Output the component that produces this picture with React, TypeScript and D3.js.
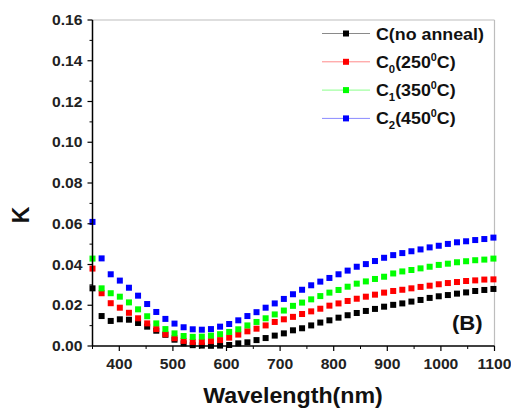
import React from "react";
import * as d3 from "d3";

const wavelengths = [350, 367, 384, 401, 418, 435, 452, 469, 486, 503, 520, 537, 554, 571, 588, 605, 622, 639, 656, 673, 690, 707, 724, 741, 758, 775, 792, 809, 826, 843, 860, 877, 894, 911, 928, 945, 962, 979, 996, 1013, 1030, 1047, 1064, 1081, 1098];

const kNoAnneal = [0.0283, 0.0147, 0.0123, 0.0131, 0.0129, 0.0113, 0.0095, 0.0075, 0.0055, 0.0031, 0.0013, 0.0004, 0.0002, 0.0001, 0.0002, 0.0005, 0.0013, 0.0018, 0.0029, 0.0039, 0.0051, 0.0062, 0.0077, 0.0087, 0.0101, 0.0115, 0.0126, 0.0139, 0.0151, 0.0162, 0.0172, 0.0182, 0.0193, 0.0202, 0.0209, 0.0218, 0.0226, 0.0236, 0.0244, 0.025, 0.0257, 0.0263, 0.027, 0.0275, 0.028];
const k250 = [0.038, 0.0259, 0.021, 0.0188, 0.0163, 0.0136, 0.0111, 0.0083, 0.0057, 0.0038, 0.0025, 0.002, 0.002, 0.0024, 0.0029, 0.0041, 0.0056, 0.0072, 0.0085, 0.0101, 0.0118, 0.0131, 0.0143, 0.0157, 0.017, 0.0183, 0.0198, 0.0209, 0.0221, 0.0232, 0.0242, 0.0252, 0.0262, 0.027, 0.0276, 0.0283, 0.029, 0.0296, 0.0303, 0.0309, 0.0314, 0.0319, 0.0322, 0.0326, 0.0327];
const k350 = [0.0429, 0.0283, 0.0259, 0.0242, 0.0214, 0.018, 0.0146, 0.0111, 0.0083, 0.0062, 0.0049, 0.0045, 0.0046, 0.0051, 0.0058, 0.0069, 0.0082, 0.0101, 0.0118, 0.0136, 0.0155, 0.0174, 0.0197, 0.0213, 0.0229, 0.0245, 0.0262, 0.0275, 0.0291, 0.0306, 0.0317, 0.0329, 0.034, 0.0356, 0.0366, 0.0373, 0.0381, 0.0389, 0.0398, 0.0404, 0.0411, 0.0416, 0.0421, 0.0424, 0.0429];
const k450 = [0.0609, 0.043, 0.0352, 0.0321, 0.0286, 0.0247, 0.0206, 0.0167, 0.0133, 0.011, 0.0092, 0.0082, 0.008, 0.0083, 0.0095, 0.0108, 0.0126, 0.0147, 0.0166, 0.0188, 0.0209, 0.0231, 0.0254, 0.0276, 0.0298, 0.0316, 0.0334, 0.0352, 0.037, 0.0389, 0.0402, 0.0417, 0.0433, 0.0446, 0.0456, 0.0465, 0.0474, 0.0484, 0.0492, 0.0501, 0.0509, 0.0514, 0.052, 0.0525, 0.0532];

const seriesNames = ["C(no anneal)", "C0(250C)", "C1(350C)", "C2(450C)"];
const seriesColors = ["#000000", "#ff0000", "#00ff00", "#0000ff"];
const legendLineColors = ["#8a8a8a", "#ff8a8a", "#8aff8a", "#8a8aff"];
const xTicks = [400, 500, 600, 700, 800, 900, 1000, 1100];
const xMinorTicks = [350, 450, 550, 650, 750, 850, 950, 1050];
const yTicks = [0.0, 0.02, 0.04, 0.06, 0.08, 0.1, 0.12, 0.14, 0.16];
const yMinorTicks = [0.01, 0.03, 0.05, 0.07, 0.09, 0.11, 0.13, 0.15];

const W = 511, H = 409;
const left = 92.5, right = 494.5, top = 20, bottom = 346;
const FONT = "'Liberation Sans', Arial, sans-serif";
const SX = 1.08;

export default function App() {
  const x = d3.scaleLinear().domain([350, 1100]).range([left, right]);
  const y = d3.scaleLinear().domain([0, 0.16]).range([bottom, top]);
  const allSeries = [kNoAnneal, k250, k350, k450];
  const ms = 6;

  const legendRows = [
    { main: "C", sub: null, rest: "(no anneal)", t: null },
    { main: "C", sub: "0", rest: "(250", t: "C)" },
    { main: "C", sub: "1", rest: "(350", t: "C)" },
    { main: "C", sub: "2", rest: "(450", t: "C)" },
  ];

  return (
    <svg width={W} height={H} style={{ position: "absolute", left: 0, top: 0, background: "#fff" }} fontFamily={FONT}>
      <rect x={0} y={0} width={W} height={H} fill="#fff" />
      <line x1={left} x2={right} y1={top} y2={top} stroke="#bdbdbd" strokeWidth={1.2} />
      <line x1={right} x2={right} y1={top} y2={bottom} stroke="#bdbdbd" strokeWidth={1.2} />

      {allSeries.map((s, si) => (
        <g key={si} fill={seriesColors[si]}>
          {s.map((v, i) => (
            <rect key={i} x={x(wavelengths[i]) - ms / 2} y={y(v) - ms / 2} width={ms} height={ms} />
          ))}
        </g>
      ))}

      <line x1={left} x2={left} y1={top} y2={bottom} stroke="#000" strokeWidth={1.5} />
      <line x1={left} x2={right} y1={bottom} y2={bottom} stroke="#000" strokeWidth={1.5} />
      {yTicks.map((t) => (
        <g key={"y" + t}>
          <line x1={left - 5} x2={left} y1={y(t)} y2={y(t)} stroke="#000" strokeWidth={1.2} />
          <text transform={`translate(${left - 10},${y(t) + 5}) scale(${SX},1)`} textAnchor="end" fontSize={14.5} fontWeight="bold" fill="#222">
            {t.toFixed(2)}
          </text>
        </g>
      ))}
      {yMinorTicks.map((t) => (
        <line key={"ym" + t} x1={left - 3} x2={left} y1={y(t)} y2={y(t)} stroke="#000" strokeWidth={1} />
      ))}
      {xTicks.map((t) => (
        <g key={"x" + t}>
          <line x1={x(t)} x2={x(t)} y1={bottom} y2={bottom + 5} stroke="#000" strokeWidth={1.2} />
          <text transform={`translate(${x(t)},${bottom + 23}) scale(${SX},1)`} textAnchor="middle" fontSize={14.5} fontWeight="bold" fill="#222">
            {t}
          </text>
        </g>
      ))}
      {xMinorTicks.map((t) => (
        <line key={"xm" + t} x1={x(t)} x2={x(t)} y1={bottom} y2={bottom + 3} stroke="#000" strokeWidth={1} />
      ))}

      <text transform={`translate(293,403) scale(${SX},1)`} textAnchor="middle" fontSize={21.5} fontWeight="bold" fill="#111">
        Wavelength(nm)
      </text>
      <text transform={`translate(29,215) rotate(-90)`} textAnchor="middle" fontSize={23} fontWeight="bold" fill="#111">
        K
      </text>

      {legendRows.map((r, i) => {
        const cy = 33.5 + i * 28.3;
        const base = cy + 6;
        return (
          <g key={"lg" + i}>
            <line x1={322} x2={370} y1={cy} y2={cy} stroke={legendLineColors[i]} strokeWidth={1} />
            <rect x={346 - ms / 2} y={cy - ms / 2} width={ms} height={ms} fill={seriesColors[i]} />
            <text transform={`translate(376,${base}) scale(${SX},1)`} fontSize={16.5} fontWeight="bold" fill="#111">
              <tspan>{r.main}</tspan>
              {r.sub && (
                <tspan fontSize={10.5} dy={5}>{r.sub}</tspan>
              )}
              <tspan dy={r.sub ? -5 : 0}>{r.rest}</tspan>
              {r.t && (
                <>
                  <tspan fontSize={10} dy={-7}>0</tspan>
                  <tspan dy={7}>{r.t}</tspan>
                </>
              )}
            </text>
          </g>
        );
      })}

      <text transform={`translate(452,330) scale(${SX},1)`} fontSize={20.5} fontWeight="bold" fill="#111">
        (B)
      </text>
    </svg>
  );
}
